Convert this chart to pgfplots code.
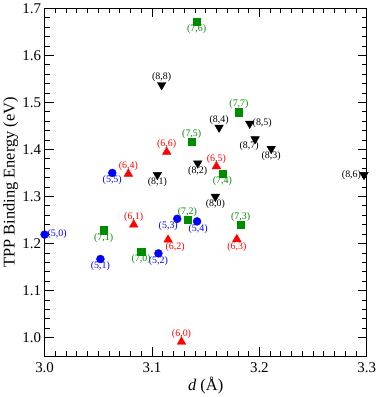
\documentclass[border=0pt]{standalone}
\usepackage{fontspec}
\setmainfont{Liberation Serif}
\usepackage{pgfplots}
\pgfplotsset{compat=1.18}

\definecolor{grgreen}{RGB}{0,140,0}

\pgfplotsset{
  labelled/.style={
    only marks, color=#1,
    point meta=explicit symbolic,
    nodes near coords,
    visualization depends on={value \thisrow{anc}\as\myanc},
    visualization depends on={value \thisrow{dx}\as\mydx},
    nodes near coords style={text=#1, font=\fontsize{10}{11}\selectfont,
      anchor=\myanc, xshift=\mydx pt, inner sep=2.8pt},
  },
}

\begin{document}
\begin{tikzpicture}
\begin{axis}[
  scale only axis,
  width=324pt, height=350pt,
  xmin=3.0, xmax=3.3, ymin=0.96, ymax=1.7,
  xtick={3.0,3.1,3.2,3.3},
  ytick={1.0,1.1,1.2,1.3,1.4,1.5,1.6,1.7},
  minor x tick num=9, minor y tick num=4,
  tick align=inside, xtick pos=both, ytick pos=both,
  xticklabel pos=lower, yticklabel pos=left,
  major tick length=9pt, minor tick length=5pt,
  every tick/.style={black, line width=0.8pt},
  axis line style={line width=1pt},
  /pgf/number format/.cd, fixed, fixed zerofill, precision=1, assume math mode=true,
  /pgfplots/.cd,
  tick label style={font=\fontsize{15}{17}\selectfont},
  xticklabel style={yshift=-3pt},
  label style={font=\fontsize{16.5}{18}\selectfont},
  xlabel={\textit{d} (Å)},
  ylabel={TPP Binding Energy (eV)},
  xlabel style={at={([yshift=-29pt]axis description cs:0.5,0)}, anchor=center},
  ylabel style={at={([xshift=-34pt]axis description cs:0,0.5)}, anchor=center},
]
% (5,n)
\addplot[labelled=blue, mark=*, mark size=4pt] table[meta=lab] {
x y lab anc dx
3.000 1.219 (5,0) west 0
3.052 1.167 (5,1) north 0
3.106 1.179 (5,2) north 0
3.1235 1.2525 (5,3) north -9
3.142 1.247 (5,4) north 1
3.063 1.350 (5,5) north 0
};
% (6,n)
\addplot[labelled=red, mark=triangle*, mark size=5pt] table[meta=lab] {
x y lab anc dx
3.1275 0.991 (6,0) south 0
3.083 1.240 (6,1) south 0
3.115 1.208 (6,2) north 7
3.179 1.209 (6,3) north 0
3.078 1.348 (6,4) south 0
3.160 1.364 (6,5) south 0
3.1137 1.3945 (6,6) south 0
};
% (7,n)
\addplot[labelled=grgreen, mark=square*, mark size=3.7pt] table[meta=lab] {
x y lab anc dx
3.090 1.183 (7,0) north 0
3.055 1.228 (7,1) north 0
3.133 1.251 (7,2) south 0
3.1825 1.240 (7,3) south 0
3.1656 1.349 (7,4) north 0
3.137 1.417 (7,5) south 0
3.1416 1.6715 (7,6) north 0
3.181 1.4795 (7,7) south 0
};
% (8,n)
\addplot[labelled=black, mark=triangle*, mark size=5pt, mark options={rotate=180}] table[meta=lab] {
x y lab anc dx
3.159 1.2996 (8,0) north 0
3.105 1.346 (8,1) north 0
3.1426 1.3706 (8,2) north 0
3.211 1.4015 (8,3) north 0
3.1625 1.4466 (8,4) south 0
3.191 1.455 (8,5) west 0
3.2974 1.346 (8,6) east 0
3.196 1.422 (8,7) north -6
3.109 1.537 (8,8) south 0
};
\end{axis}
\end{tikzpicture}
\end{document}
